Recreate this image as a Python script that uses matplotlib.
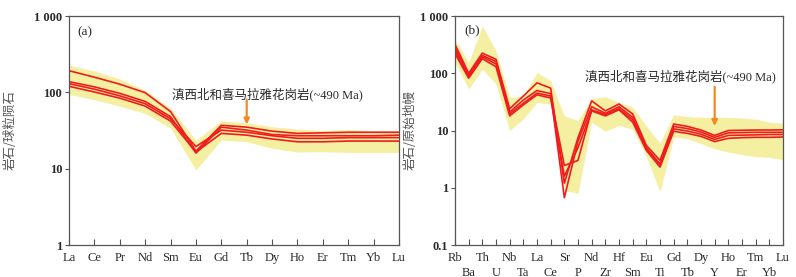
import numpy as np
import matplotlib
matplotlib.use("Agg")
import matplotlib.pyplot as plt
from matplotlib.ticker import FixedLocator, FixedFormatter, NullLocator

plt.rcParams['font.family'] = ['Liberation Serif', 'Noto Sans CJK SC']

# (a) chondrite-normalised REE
ree = ['La', 'Ce', 'Pr', 'Nd', 'Sm', 'Eu', 'Gd', 'Tb', 'Dy', 'Ho', 'Er', 'Tm', 'Yb', 'Lu']
ree_samples = [
    [192, 158, 128, 99, 56, 17.0, 37.0, 35.0, 31.0, 29.0, 29.5, 30.0, 30.0, 30.0],
    [138, 118, 97, 76, 48, 16.0, 35.0, 32.0, 28.0, 27.0, 27.0, 27.0, 27.0, 27.5],
    [130, 110, 90, 71, 45, 19.5, 32.0, 30.0, 27.0, 25.0, 25.0, 25.5, 25.5, 25.5],
    [120, 101, 84, 66, 42, 16.5, 29.0, 27.5, 24.5, 22.5, 22.5, 23.0, 23.0, 23.0],
]
ree_band_hi = [228, 190, 150, 107, 62, 23.5, 42.5, 40.0, 35.5, 33.0, 31.5, 32.5, 31.5, 31.5]
ree_band_lo = [94, 80, 66, 53, 34, 9.6, 23.8, 22.5, 18.5, 16.5, 16.7, 16.3, 16.3, 16.3]

# (b) primitive-mantle-normalised trace elements
trace = ['Rb', 'Ba', 'Th', 'U', 'Nb', 'Ta', 'La', 'Ce', 'Sr', 'P', 'Nd', 'Zr', 'Hf',
         'Sm', 'Eu', 'Ti', 'Gd', 'Tb', 'Dy', 'Y', 'Ho', 'Er', 'Tm', 'Yb', 'Lu']
trace_samples = [
    [320, 100, 225, 175, 24, 40, 68, 55, 1.2, 7.5, 33, 22, 29, 19.5, 5.5, 3.0,
     13.0, 11.8, 10.2, 8.2, 10.0, 10.1, 10.2, 10.2, 10.3],
    [280, 92, 205, 160, 21, 34, 50, 44, 0.67, 6.5, 26, 20, 26, 17.0, 5.0, 2.6,
     11.8, 10.8, 9.4, 7.6, 9.1, 9.2, 9.3, 9.3, 9.3],
    [250, 85, 195, 145, 19.5, 30, 45, 40, 2.45, 3.0, 23, 19, 24, 15.5, 4.7, 2.4,
     10.7, 9.8, 8.6, 7.0, 8.2, 8.3, 8.4, 8.5, 8.5],
    [220, 82, 180, 130, 18, 28, 42, 37, 1.6, 5.0, 22, 18, 23, 14.0, 4.5, 2.3,
     9.7, 8.9, 7.9, 6.4, 7.3, 7.5, 7.6, 7.6, 7.7],
]
trace_band_hi = [394, 154, 670, 247, 38, 40, 103, 74, 18, 15, 36, 39, 31, 25.5, 12, 6.0,
                 18.8, 17.5, 17.0, 17.0, 17.0, 16.6, 15.8, 14.0, 13.4]
trace_band_lo = [154, 53, 118, 65, 10, 16, 31, 29, 0.9, 0.8, 14, 9.7, 12.3, 10.5, 3.5, 0.85,
                 7.7, 7.2, 5.9, 4.8, 4.2, 3.8, 3.5, 3.4, 3.1]

label_text = '滇西北和喜马拉雅花岗岩(~490 Ma)'

band_color = '#f5efa2'
line_color = '#ee1c1c'
arrow_color = '#f28a24'
frame_color = '#555555'
text_color = '#2a2a2a'

fig = plt.figure(figsize=(7.96, 2.77), dpi=100)
ax1 = fig.add_axes([0.0867, 0.1155, 0.4146, 0.8267])
ax2 = fig.add_axes([0.5716, 0.1155, 0.4121, 0.8267])


def style_axis(ax, xs, names, ylim, yticks, ylabels, two_rows=False):
    ax.set_yscale('log')
    ax.set_ylim(*ylim)
    ax.set_xlim(xs[0], xs[-1])
    ax.yaxis.set_major_locator(FixedLocator(yticks))
    ax.yaxis.set_major_formatter(FixedFormatter(ylabels))
    ax.yaxis.set_minor_locator(NullLocator())
    if two_rows:
        # even elements on the upper row, odd ones on a lower row
        ax.xaxis.set_major_locator(FixedLocator(xs[::2]))
        ax.xaxis.set_major_formatter(FixedFormatter(names[::2]))
        ax.xaxis.set_minor_locator(FixedLocator(xs[1::2]))
        ax.xaxis.set_minor_formatter(FixedFormatter(names[1::2]))
        ax.tick_params(axis='x', which='minor', direction='in', length=4, width=0.8,
                       colors=frame_color, labelcolor=text_color, labelsize=9, pad=15.5)
    else:
        ax.set_xticks(xs)
        ax.set_xticklabels(names)
        ax.xaxis.set_minor_locator(NullLocator())
    ax.tick_params(axis='x', which='major', direction='in', length=4, width=0.8,
                   colors=frame_color, labelcolor=text_color, labelsize=9, pad=5)
    ax.tick_params(axis='y', direction='out', length=3, width=0.8, colors=frame_color,
                   labelcolor=text_color, labelsize=9, pad=2)
    for lab in ax.get_yticklabels():
        lab.set_fontweight('bold')
    for s in ax.spines.values():
        s.set_color(frame_color)
        s.set_linewidth(0.9)


# panel (a)
xa = np.arange(len(ree))
ax1.fill_between(xa, ree_band_lo, ree_band_hi, color=band_color, lw=0)
for s in ree_samples:
    ax1.plot(xa, s, color=line_color, lw=1.2)
style_axis(ax1, xa, ree, (1, 1000), [1, 10, 100, 1000], ['1', '10', '100', '1 000'])
ax1.set_ylabel('岩石/球粒陨石', color='#555555', fontsize=9,
               family=['Noto Sans CJK SC'])
ax1.yaxis.set_label_coords(-0.158, 0.5)
ax1.text(0.025, 0.955, '(a)', transform=ax1.transAxes, fontsize=9.5, color=text_color,
         va='top', ha='left')
ax1.text(7.8, 95, label_text, fontsize=9, color=text_color, ha='center', va='center')
ax1.annotate('', xy=(7, 38), xytext=(7, 80),
             arrowprops=dict(arrowstyle='-|>', color=arrow_color, lw=1.6,
                             mutation_scale=8, shrinkA=0, shrinkB=0))

# panel (b)
xb = np.arange(len(trace))
ax2.fill_between(xb, trace_band_lo, trace_band_hi, color=band_color, lw=0)
for s in trace_samples:
    ax2.plot(xb, s, color=line_color, lw=1.2)
style_axis(ax2, xb, trace, (0.1, 1000), [0.1, 1, 10, 100, 1000],
           ['0.1', '1', '10', '100', '1 000'], two_rows=True)
ax2.set_ylabel('岩石/原始地幔', color='#555555', fontsize=9,
               family=['Noto Sans CJK SC'])
ax2.yaxis.set_label_coords(-0.116, 0.5)
ax2.text(0.03, 0.965, '(b)', transform=ax2.transAxes, fontsize=9.5, color=text_color,
         va='top', ha='left')
ax2.text(16.5, 88, label_text, fontsize=9, color=text_color, ha='center', va='center')
ax2.annotate('', xy=(19, 12), xytext=(19, 58),
             arrowprops=dict(arrowstyle='-|>', color=arrow_color, lw=1.6,
                             mutation_scale=8, shrinkA=0, shrinkB=0))

fig.savefig('out.png', dpi=100, facecolor='white')
